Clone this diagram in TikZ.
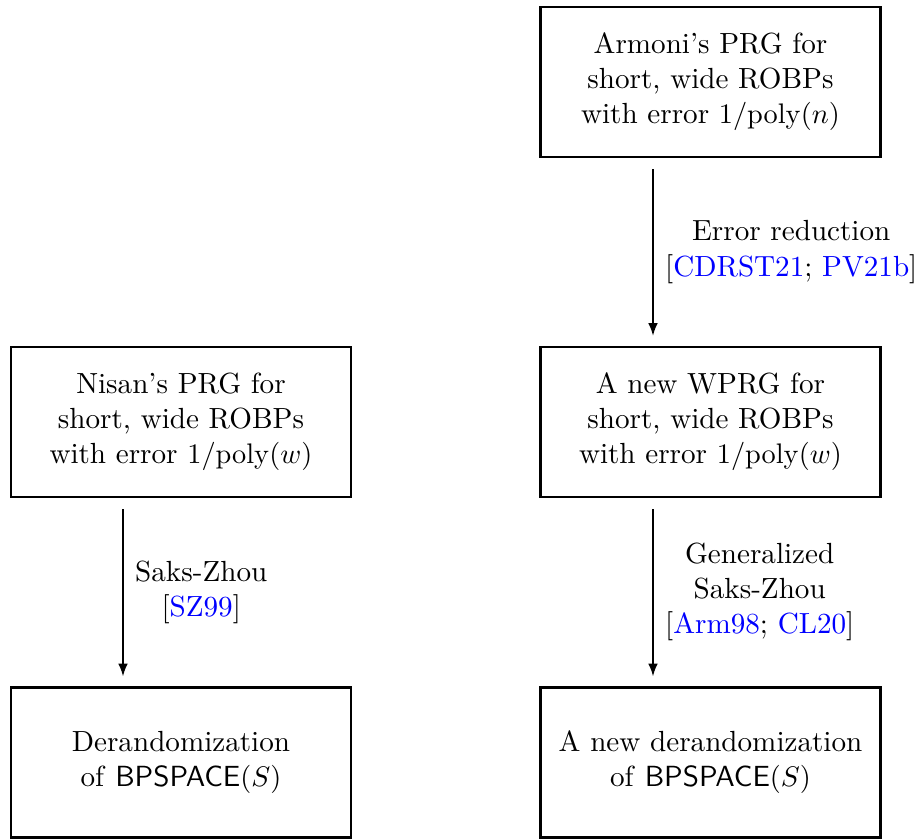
\documentclass[tikz,border=0pt]{standalone}
\usetikzlibrary{arrows.meta}
\definecolor{citeblue}{RGB}{0,0,255}
\newcommand{\cit}[1]{\textcolor{citeblue}{#1}}
\begin{document}
\begin{tikzpicture}[x=0.3535pt,y=-0.3535pt,
  every node/.style={font=\fontsize{10.3}{12.4}\selectfont},
  box/.style={draw, line width=0.8pt, minimum width=340*0.3535pt, minimum height=150*0.3535pt, align=center, inner sep=0pt},
  arr/.style={-{Latex[length=4.5pt,width=3.4pt]}, line width=0.6pt, shorten <=11*0.3535pt, shorten >=10*0.3535pt},
  lab/.style={right, align=center, inner sep=4pt}]
\useasboundingbox (0,0) rectangle (917,840);
\node[box] (armoni) at (710.5,82) {Armoni's PRG for\\short, wide ROBPs\\with error $1/\mathrm{poly}(n)$};
\node[box] (wprg) at (710.5,422) {A new WPRG for\\short, wide ROBPs\\with error $1/\mathrm{poly}(w)$};
\node[box] (newder) at (710.5,762.5) {A new derandomization\\of \textsf{BPSPACE}$(S)$};
\node[box] (nisan) at (181,422) {Nisan's PRG for\\short, wide ROBPs\\with error $1/\mathrm{poly}(w)$};
\node[box] (der) at (181,762.5) {Derandomization\\of \textsf{BPSPACE}$(S)$};
\coordinate (la) at (123,0);
\coordinate (ra) at (653,0);
\draw[arr] (armoni.south -| ra) -- node[lab] {Error reduction\\{}[\cit{CDRST21}; \cit{PV21b}]} (wprg.north -| ra);
\draw[arr] (wprg.south -| ra) -- node[lab] {Generalized\\Saks-Zhou\\{}[\cit{Arm98}; \cit{CL20}]} (newder.north -| ra);
\draw[arr] (nisan.south -| la) -- node[lab] {Saks-Zhou\\{}[\cit{SZ99}]} (der.north -| la);
\end{tikzpicture}
\end{document}
